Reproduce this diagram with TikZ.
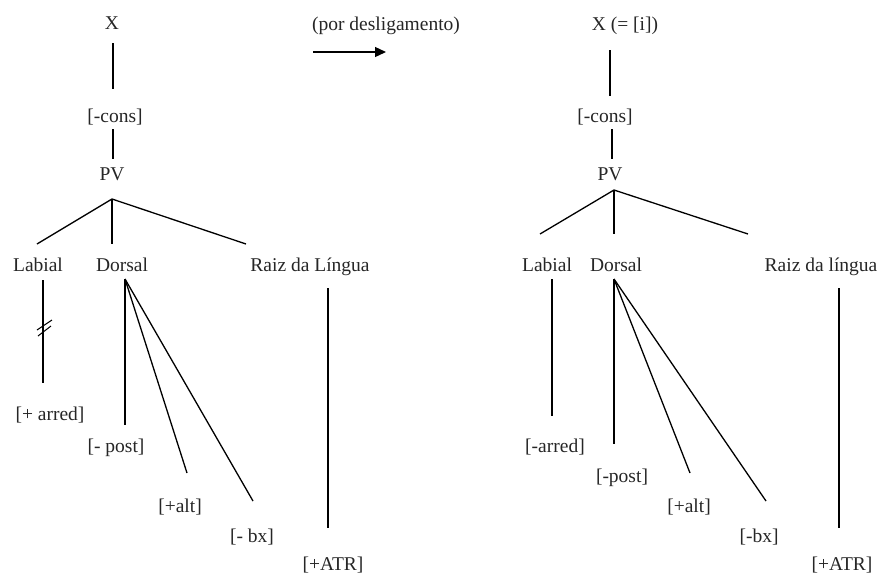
\documentclass[tikz,border=0pt]{standalone}
\usepackage{fontspec}
\setmainfont{Liberation Serif}
\usetikzlibrary{arrows.meta}
\begin{document}
\begin{tikzpicture}[x=1pt,y=-1pt,
  lbl/.style={anchor=base,inner sep=0pt,font=\fontsize{19.5}{23}\selectfont,text=black!85},
  ln/.style={line width=1.3pt,black}]
\useasboundingbox (0,0) rectangle (884,574);
% ---------- left tree ----------
\node[lbl] (X1) at (112,29) {X};
\node[lbl] (C1) at (115,122) {[-cons]};
\node[lbl] (PV1) at (112,180) {PV};
\node[lbl] (Lab1) at (38,271) {Labial};
\node[lbl] (Dor1) at (122,271) {Dorsal};
\node[lbl] (Rz1) at (310,271) {Raiz da Língua};
\node[lbl] (ar1) at (50,420) {[+ arred]};
\node[lbl] (po1) at (116,452) {[- post]};
\node[lbl] (al1) at (180,512) {[+alt]};
\node[lbl] (bx1) at (252,542) {[- bx]};
\node[lbl] (at1) at (333,570) {[+ATR]};
\coordinate (x1a) at (113,43); \coordinate (x1b) at (113,89);
\coordinate (c1a) at (113,129); \coordinate (c1b) at (113,159);
\coordinate (pv1) at (112,199);
\coordinate (pv1l) at (37,244); \coordinate (pv1m) at (112,244); \coordinate (pv1r) at (246,244);
\coordinate (lab1a) at (43,280); \coordinate (lab1b) at (43,383);
\coordinate (d1) at (125,279);
\coordinate (d1a) at (125,425); \coordinate (d1b) at (187,473); \coordinate (d1c) at (253,501);
\coordinate (r1a) at (328,288); \coordinate (r1b) at (328,528);
\draw[ln] (x1a) -- (x1b);
\draw[ln] (c1a) -- (c1b);
\draw[ln] (pv1l) -- (pv1) -- (pv1r);
\draw[ln] (pv1) -- (pv1m);
\draw[ln] (lab1a) -- (lab1b);
\draw[ln] (d1) -- (d1a);
\draw[ln] (d1) -- (d1b);
\draw[ln] (d1) -- (d1c);
\draw[ln] (r1a) -- (r1b);
% delinking mark
\coordinate (dk1a) at (37,330); \coordinate (dk1b) at (52,320);
\coordinate (dk2a) at (38,336); \coordinate (dk2b) at (51,326);
\draw[line width=1pt] (dk1a) -- (dk1b);
\draw[line width=1pt] (dk2a) -- (dk2b);
% ---------- arrow ----------
\node[lbl] (por) at (386,30) {(por desligamento)};
\coordinate (arA) at (313,52); \coordinate (arB) at (386,52);
\draw[ln,-{Triangle[length=11pt,width=10pt]}] (arA) -- (arB);
% ---------- right tree ----------
\node[lbl] (X2) at (625,30) {X (= [i])};
\node[lbl] (C2) at (605,122) {[-cons]};
\node[lbl] (PV2) at (610,180) {PV};
\node[lbl] (Lab2) at (547,271) {Labial};
\node[lbl] (Dor2) at (616,271) {Dorsal};
\node[lbl] (Rz2) at (821,271) {Raiz da língua};
\node[lbl] (ar2) at (555,452) {[-arred]};
\node[lbl] (po2) at (622,482) {[-post]};
\node[lbl] (al2) at (689,512) {[+alt]};
\node[lbl] (bx2) at (759,542) {[-bx]};
\node[lbl] (at2) at (842,570) {[+ATR]};
\coordinate (x2a) at (610,50); \coordinate (x2b) at (610,96);
\coordinate (c2a) at (612,129); \coordinate (c2b) at (612,159);
\coordinate (pv2) at (614,190);
\coordinate (pv2l) at (540,234); \coordinate (pv2m) at (614,234); \coordinate (pv2r) at (748,234);
\coordinate (lab2a) at (552,279); \coordinate (lab2b) at (552,416);
\coordinate (d2) at (614,279);
\coordinate (d2a) at (614,444); \coordinate (d2b) at (690,473); \coordinate (d2c) at (766,501);
\coordinate (r2a) at (839,288); \coordinate (r2b) at (839,528);
\draw[ln] (x2a) -- (x2b);
\draw[ln] (c2a) -- (c2b);
\draw[ln] (pv2l) -- (pv2) -- (pv2r);
\draw[ln] (pv2) -- (pv2m);
\draw[ln] (lab2a) -- (lab2b);
\draw[ln] (d2) -- (d2a);
\draw[ln] (d2) -- (d2b);
\draw[ln] (d2) -- (d2c);
\draw[ln] (r2a) -- (r2b);
\end{tikzpicture}
\end{document}
